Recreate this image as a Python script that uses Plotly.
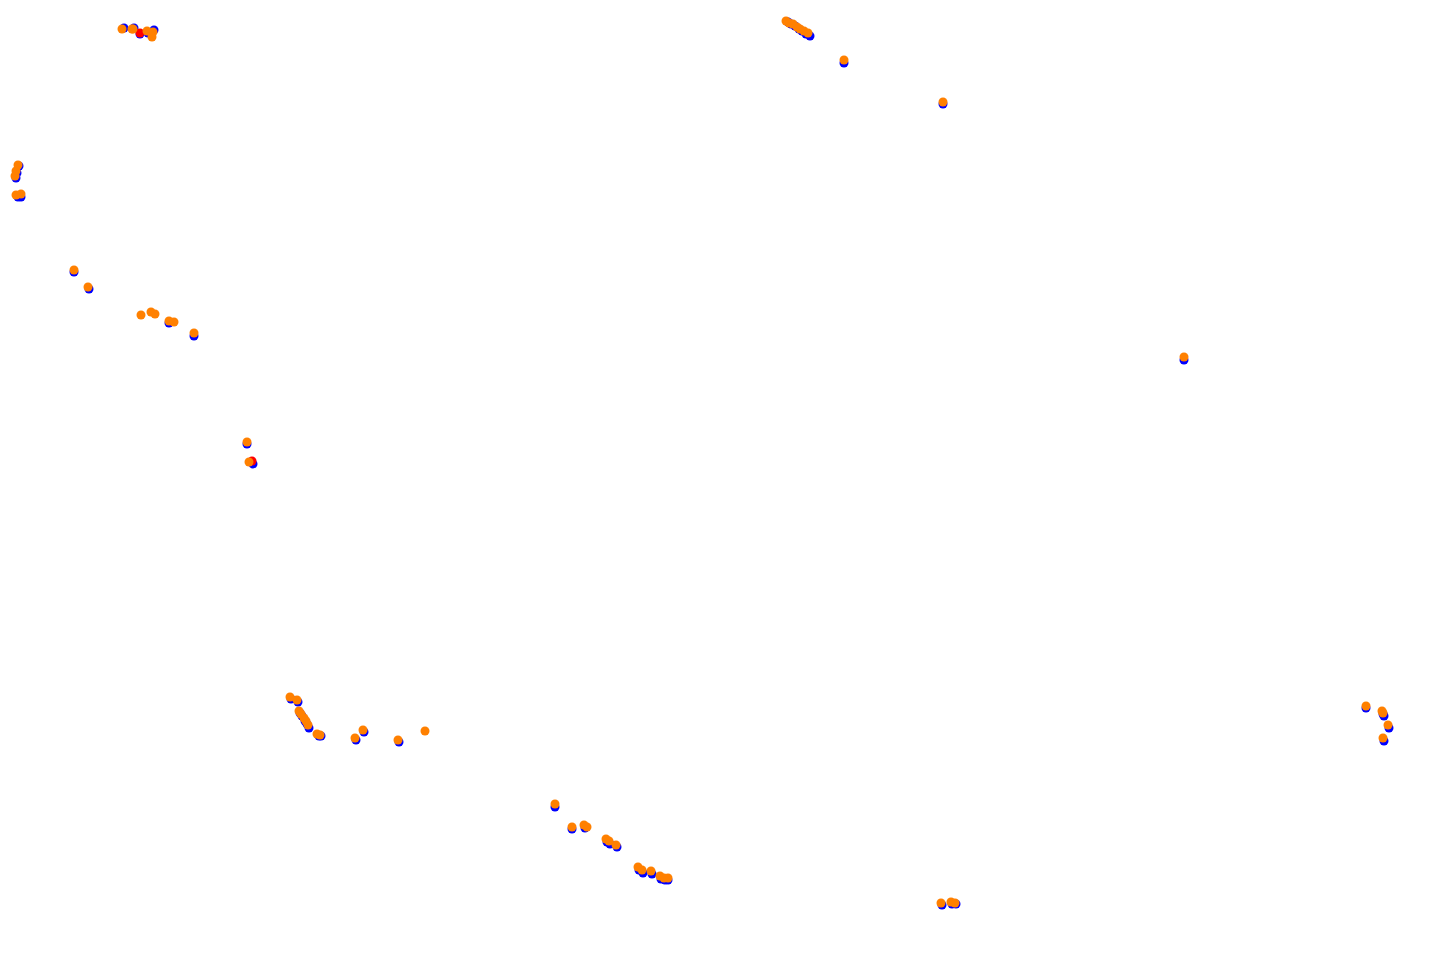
import plotly.graph_objects as go

# Orange series (top layer)
orange_x = [122, 132, 133, 147, 153, 152,
            18, 16, 15, 16, 21,
            74, 88, 141, 151, 155, 169, 174, 194,
            247, 249,
            290, 297, 299, 301, 304, 306, 308, 317, 320, 355, 363, 398, 425,
            555, 572, 584, 587, 606, 609, 616, 638, 642, 651, 660, 664, 668,
            941, 951, 955,
            1184,
            1366, 1382, 1383, 1388, 1383,
            786, 789, 793, 797, 800, 804, 808,
            844, 943]
orange_y = [29, 29, 29, 31, 32, 37,
            165, 171, 176, 195, 194,
            270, 287, 315, 312, 314, 321, 322, 333,
            442, 462,
            697, 700, 711, 714, 718, 721, 725, 734, 735, 738, 730, 740, 731,
            804, 827, 825, 827, 839, 841, 845, 867, 870, 871, 876, 878, 878,
            903, 902, 903,
            357,
            706, 711, 713, 725, 738,
            21, 23, 24, 27, 29, 31, 33,
            60, 102]

# Blue series (bottom layer)
blue_x = [124, 134, 140, 148, 154,
          19, 17, 16, 18, 21,
          74, 89, 169, 194,
          247, 253,
          291, 298, 300, 302, 305, 307, 309, 319, 321, 356, 364, 399,
          555, 572, 585, 607, 610, 617, 639, 643, 652, 661, 665, 668,
          942, 952, 956,
          1184,
          1366, 1383, 1384, 1389, 1384,
          788, 791, 795, 799, 802, 806, 810,
          844, 943]
blue_y = [28, 28, 34, 33, 30,
          166, 173, 178, 197, 197,
          272, 289, 323, 336,
          444, 464,
          699, 702, 713, 716, 721, 724, 728, 736, 736, 740, 732, 742,
          807, 829, 828, 842, 844, 847, 870, 873, 874, 879, 880, 880,
          905, 904, 904,
          360,
          708, 714, 716, 728, 741,
          22, 24, 26, 29, 31, 34, 36,
          63, 104]

# Red series (middle layer)
red_x = [140, 252]
red_y = [33, 461]

fig = go.Figure()
fig.add_trace(go.Scatter(x=blue_x, y=blue_y, mode="markers",
                         marker=dict(color="#0000ff", size=9), name="blue"))
fig.add_trace(go.Scatter(x=red_x, y=red_y, mode="markers",
                         marker=dict(color="#ff0000", size=9), name="red"))
fig.add_trace(go.Scatter(x=orange_x, y=orange_y, mode="markers",
                         marker=dict(color="#ff8000", size=9), name="orange"))

fig.update_layout(
    width=1443, height=962,
    margin=dict(l=0, r=0, t=0, b=0),
    paper_bgcolor="white", plot_bgcolor="white",
    showlegend=False,
    xaxis=dict(range=[8, 1451], visible=False, showgrid=False, zeroline=False),
    yaxis=dict(range=[970, 8], visible=False, showgrid=False, zeroline=False),
)
fig.write_html("out.html")
